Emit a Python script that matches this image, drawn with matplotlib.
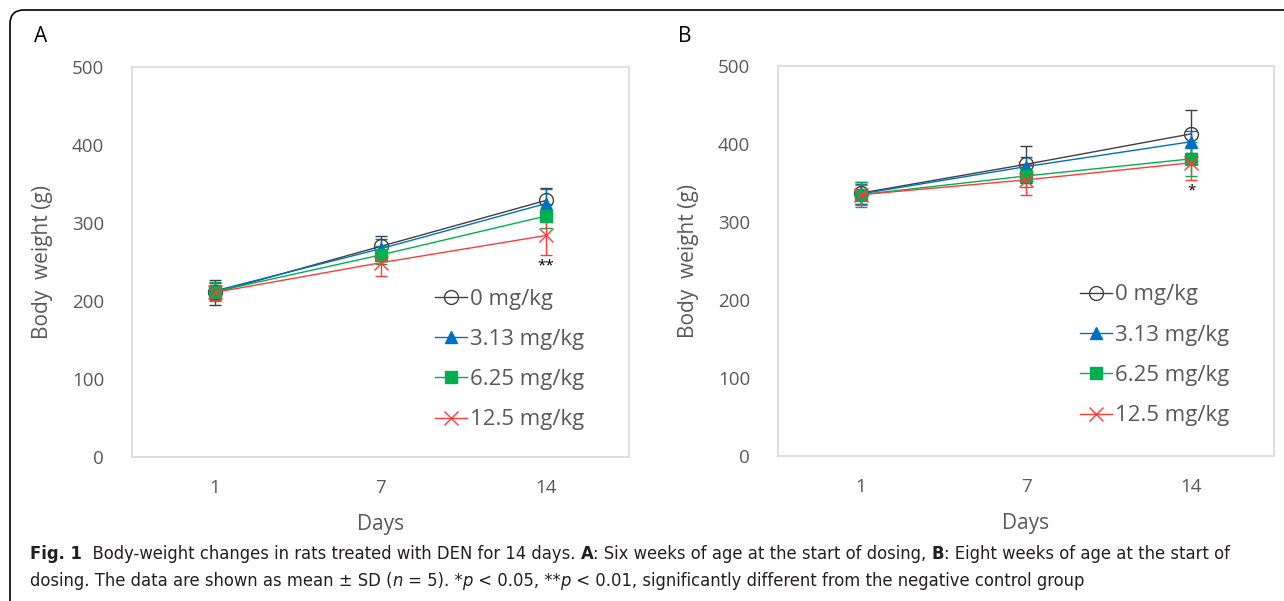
import matplotlib
matplotlib.use("Agg")
import matplotlib.pyplot as plt
import matplotlib.transforms as mtransforms
from matplotlib.patches import FancyBboxPatch

# ---- data ----
days = ["1", "7", "14"]
doses = ["0 mg/kg", "3.13 mg/kg", "6.25 mg/kg", "12.5 mg/kg"]

a_mean_0 = [211, 270, 329]
a_mean_313 = [213, 267, 325]
a_mean_625 = [212, 259, 309]
a_mean_125 = [211, 249, 284]
a_sd_0 = [16, 13, 16]
a_sd_313 = [10, 12, 18]
a_sd_625 = [12, 12, 15]
a_sd_125 = [10, 17, 25]

b_mean_0 = [337, 374, 413]
b_mean_313 = [336, 371, 403]
b_mean_625 = [335, 359, 381]
b_mean_125 = [335, 354, 376]
b_sd_0 = [14, 24, 30]
b_sd_313 = [13, 12, 14]
b_sd_625 = [16, 14, 22]
b_sd_125 = [13, 20, 22]

a_star = "**"
b_star = "*"

colors = ["#404040", "#0070C0", "#00B050", "#FF3B3B"]
markers = ["o", "^", "s", "x"]
msizes = [10, 9, 8, 10]

plt.rcParams["font.family"] = ["Open Sans", "DejaVu Sans"]

fig = plt.figure(figsize=(12.84, 6.01), dpi=100)

def panel(ax, means, sds, star, star_idx, leg_anchor):
    x = list(range(len(days)))
    handles = []
    for i in range(4):
        mfc = "none" if markers[i] == "o" else colors[i]
        c = ax.errorbar(x, means[i], yerr=sds[i], color=colors[i], marker=markers[i],
                        markersize=msizes[i], mfc=mfc, mec=colors[i], mew=1.0,
                        linewidth=1.0, elinewidth=1.0, capsize=4, capthick=1.0,
                        label=doses[i])
        handles.append(c.lines[0])
    ax.set_xlim(-0.5, 2.5)
    ax.set_ylim(0, 500)
    ax.set_yticks([0, 100, 200, 300, 400, 500])
    ax.set_xticks(x)
    ax.set_xticklabels(days)
    ax.tick_params(length=0, labelsize=13.5, labelcolor="#595959", pad=16)
    ax.tick_params(axis="y", pad=20)
    for s in ax.spines.values():
        s.set_color("#D9D9D9")
        s.set_linewidth(1.2)
    ax.set_xlabel("Days", fontsize=15, color="#595959", labelpad=12)
    ax.set_ylabel("Body  weight (g)", fontsize=15, color="#595959", labelpad=14)
    ax.text(star_idx, means[3][star_idx] - sds[3][star_idx] - 4, star,
            ha="center", va="top", fontsize=11, color="black")
    ax.legend(handles, doses, loc="center left", bbox_to_anchor=leg_anchor,
              frameon=False, fontsize=16, handlelength=1.45, handletextpad=0.1,
              labelspacing=0.87, borderpad=0, borderaxespad=0,
              labelcolor="#595959")

ax_a = fig.add_axes([132 / 1284, 144 / 601, 497 / 1284, 390 / 601])
panel(ax_a, [a_mean_0, a_mean_313, a_mean_625, a_mean_125],
      [a_sd_0, a_sd_313, a_sd_625, a_sd_125], a_star, 2, (0.61, 0.25))

ax_b = fig.add_axes([778 / 1284, 145 / 601, 496 / 1284, 390 / 601])
panel(ax_b, [b_mean_0, b_mean_313, b_mean_625, b_mean_125],
      [b_sd_0, b_sd_313, b_sd_625, b_sd_125], b_star, 2, (0.609, 0.258))

fig.text(34 / 1284, 1 - 37 / 601, "A", fontsize=15, va="center", ha="left")
fig.text(678 / 1284, 1 - 37 / 601, "B", fontsize=15, va="center", ha="left")

# rounded frame around the figure
frame = FancyBboxPatch((10, -30), 1320, 621, boxstyle="round,pad=0,rounding_size=14",
                       transform=mtransforms.IdentityTransform(), fill=False,
                       edgecolor="black", linewidth=1.2)
fig.patches.append(frame)

# caption with mixed bold / italic runs
cap_family = ["DejaVu Sans"]
renderer = fig.canvas.get_renderer()

def draw_runs(x, y, runs, size):
    texts = []
    for s, weight, style in runs:
        t = fig.text(x, y, s, transform=mtransforms.IdentityTransform(),
                     family=cap_family, fontsize=size, fontweight=weight,
                     fontstretch="condensed", fontstyle=style, va="baseline",
                     ha="left", color="#231F20")
        x += t.get_window_extent(renderer).width
        texts.append(t)
    return texts, x

line1 = [("Fig. 1", "bold", "normal"),
         ("  Body-weight changes in rats treated with DEN for 14 days. ", "normal", "normal"),
         ("A", "bold", "normal"),
         (": Six weeks of age at the start of dosing, ", "normal", "normal"),
         ("B", "bold", "normal"),
         (": Eight weeks of age at the start of", "normal", "normal")]
line2 = [("dosing. The data are shown as mean \u00b1 SD (", "normal", "normal"),
         ("n", "normal", "italic"),
         (" = 5). *", "normal", "normal"),
         ("p", "normal", "italic"),
         (" < 0.05, **", "normal", "normal"),
         ("p", "normal", "italic"),
         (" < 0.01, significantly different from the negative control group", "normal", "normal")]

# fit the first caption line to the width it has in the original
probe, end = draw_runs(30, -100, line1, 12)
cap_size = 12 * (1232 - 30) / (end - 30)
for t in probe:
    t.remove()
draw_runs(30, 601 - 559, line1, cap_size)
draw_runs(30, 601 - 586, line2, cap_size)

fig.savefig("out.png", dpi=100)
